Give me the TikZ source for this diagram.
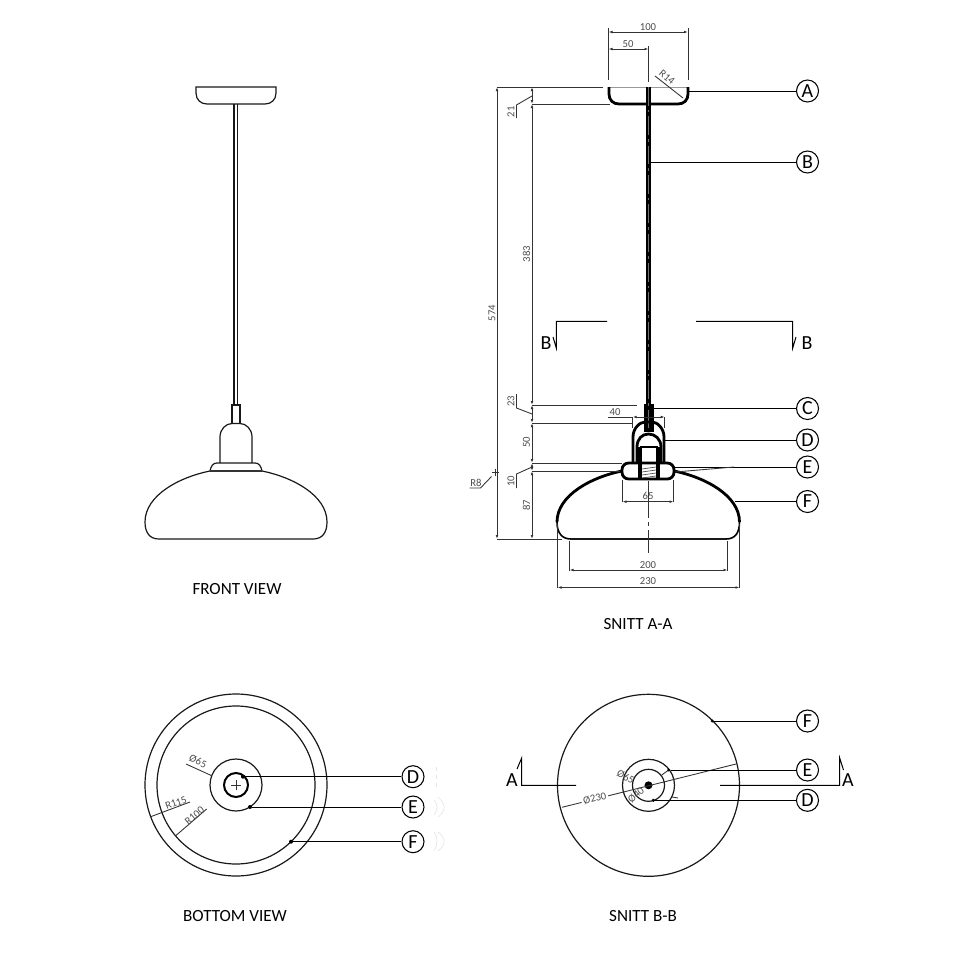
\documentclass[tikz,border=0pt]{standalone}
\usepackage{fontspec}
\setmainfont{Carlito}
\usetikzlibrary{arrows.meta}
\tikzset{
	thinline/.style={line width=0.9pt,color=black!90},
	heavyline/.style={line width=2.1pt,color=black},
	dimline/.style={line width=0.65pt,color=black!80,{Latex[length=3pt,width=2pt]}-{Latex[length=3pt,width=2pt]}},
	extline/.style={line width=0.65pt,color=black!80},
	leaderline/.style={line width=0.75pt,color=black},
	callout/.style={circle,draw=black,line width=0.8pt,fill=white,minimum size=16.5pt,inner sep=0pt,font=\fontsize{15}{15}\selectfont},
	dimtext/.style={font=\fontsize{8}{8}\selectfont,color=black!70,inner sep=0pt},
	cuttext/.style={font=\fontsize{15}{15}\selectfont,inner sep=0pt},
	viewtitle/.style={font=\fontsize{12.8}{12.8}\selectfont,inner sep=0pt},
	leaderdot/.style={circle,fill=black,inner sep=0pt,minimum size=3pt},
}
\begin{document}
\begin{tikzpicture}[x=0.75pt,y=0.75pt,yscale=-1,xscale=1]
	\useasboundingbox (0,0) rectangle (960,960);

	%Front view
	\draw [thinline] (196,87) -- (276,87) -- (276,93) .. controls (276,100) and (271,104) .. (265,104) -- (207,104) .. controls (201,104) and (196,100) .. (196,93) -- cycle ;
	\draw [thinline] (234,104) -- (234,405) ;
	\draw [thinline] (237.5,104) -- (237.5,405) ;
	\draw [thinline] (232,423) -- (232,405) -- (240,405) -- (240,423) ;
	\draw [thinline] (220,463) -- (220,437) .. controls (220,429) and (226,423.5) .. (232,423.5) -- (240,423.5) .. controls (246,423.5) and (252,429) .. (252,437) -- (252,463) ;
	\draw [thinline] (210,471) .. controls (211,466) and (213,463) .. (217,463) -- (255,463) .. controls (259,463) and (261,466) .. (262,471) ;
	\draw [line width=1.2pt,color=black!80] (210,471) -- (262,471) ;
	\draw [thinline] (210,471) .. controls (180,477) and (145,495) .. (145,522) .. controls (145,533) and (150,539) .. (159,539) -- (313,539) .. controls (322,539) and (327,533) .. (327,522) .. controls (327,495) and (292,477) .. (262,471) ;
	\node [viewtitle] (titleFront) at (237,589.5) {FRONT VIEW};

	%Section A-A, canopy and cord
	\draw [extline,color=black!40] (609,87) -- (688,87) ;
	\draw [heavyline] (609,87) -- (609,94) .. controls (609,100) and (613,104) .. (619,104) -- (678,104) .. controls (684,104) and (688,100) .. (688,94) -- (688,87) ;
	\draw [line width=4.2pt] (648.5,87) -- (648.5,405) ;
	\draw [line width=7.5pt] (648.5,404) -- (648.5,432) ;
	\draw [line width=0.2pt,color=black!55,dash pattern=on 14pt off 3pt on 2pt off 3pt] (648.5,87) -- (648.5,432) ;

	%Section A-A, holder
	\draw [heavyline] (633,463) -- (633,437) .. controls (633,428) and (640,422) .. (645,422) -- (652,422) .. controls (657,422) and (664,428) .. (664,437) -- (664,463) ;
	\draw [heavyline] (637,463) -- (637,447) .. controls (637,439) and (642,434) .. (648.5,434) .. controls (655,434) and (661,439) .. (661,447) -- (661,463) ;
	\draw [heavyline] (640,447) -- (658,447) ;
	\draw [line width=3pt] (640,447) -- (640,479) ;
	\draw [line width=3pt] (658,447) -- (658,479) ;
	\draw [heavyline,rounded corners=5pt] (622,463) rectangle (674,479) ;
	\draw [line width=0.5pt,color=black!70] (642,469) -- (656,467) ;
	\draw [line width=0.5pt,color=black!70] (642,472) -- (656,470) ;
	\draw [line width=0.5pt,color=black!70] (642,475) -- (656,473) ;
	\draw [line width=0.5pt,color=black!70] (642,478) -- (656,476) ;

	%Section A-A, shade
	\draw [heavyline] (622,471) .. controls (592,477) and (557,495) .. (557,522) ;
	\draw [heavyline] (674,471) .. controls (704,477) and (739.5,495) .. (739.5,522) ;
	\draw [line width=1.2pt] (557,522) .. controls (557,533) and (562,539) .. (571,539) ;
	\draw [line width=1.2pt] (739.5,522) .. controls (739.5,533) and (735,539) .. (726,539) ;
	\draw [thinline] (571,539) -- (726,539) ;
	\draw [extline,dash pattern=on 28pt off 3pt on 3pt off 3pt] (648.5,481) -- (648.5,553) ;

	%Section A-A, dimensions on top
	\draw [extline] (608.5,28) -- (608.5,80) ;
	\draw [extline] (688,28) -- (688,80) ;
	\draw [extline] (648.5,46) -- (648.5,82) ;
	\draw [dimline] (608.5,32) -- (688,32) ;
	\draw [dimline] (608.5,49) -- (648.5,49) ;
	\node [dimtext] (dimHundred) at (648,27) {100};
	\node [dimtext] (dimFifty) at (628,44) {50};
	\draw [extline] (655,76) -- (683,98) ;
	\node [dimtext,rotate=-40] (dimRfourteen) at (667,77) {R14};

	%Section A-A, dimensions on the left
	\draw [extline] (497,87) -- (603,87) ;
	\draw [extline] (532,104) -- (610,104) ;
	\draw [extline] (532,405) -- (637,405) ;
	\draw [extline] (532,423) -- (632,423) ;
	\draw [extline] (532,463) -- (622,463) ;
	\draw [extline] (532,471) -- (620,471) ;
	\draw [extline] (497,539) -- (562,539) ;
	\draw [dimline] (497,87) -- (497,539) ;
	\draw [dimline] (532,104) -- (532,405) ;
	\draw [dimline] (532,87) -- (532,104) ;
	\draw [dimline] (532,405) -- (532,423) ;
	\draw [dimline] (532,423) -- (532,463) ;
	\draw [dimline] (532,463) -- (532,471) ;
	\draw [dimline] (532,471) -- (532,539) ;
	\draw [extline] (532,96) -- (516.5,105) -- (516.5,118) ;
	\draw [extline] (532,414) -- (516.5,408) -- (516.5,394) ;
	\draw [extline] (532,467) -- (516.5,474) -- (516.5,488) ;
	\node [dimtext,rotate=90] (dimTotal) at (492,313) {574};
	\node [dimtext,rotate=90] (dimCord) at (526.5,254) {383};
	\node [dimtext,rotate=90] (dimCanopy) at (511,112) {21};
	\node [dimtext,rotate=90] (dimSleeve) at (511,401) {23};
	\node [dimtext,rotate=90] (dimHolder) at (526.5,442) {50};
	\node [dimtext,rotate=90] (dimFlange) at (511,481) {10};
	\node [dimtext,rotate=90] (dimShade) at (526.5,505) {87};
	\draw [extline] (491.5,472) -- (498.5,472) ;
	\draw [extline] (495,468.5) -- (495,475.5) ;
	\draw [extline] (491.5,476.5) -- (480.5,488) -- (469.5,488) ;
	\node [dimtext] (dimReight) at (476,482.5) {R8};

	%Section A-A, dimensions of holder and shade
	\draw [extline] (632.7,417) -- (632.7,428) ;
	\draw [extline] (664.7,417) -- (664.7,428) ;
	\draw [extline] (608,417) -- (632.7,417) ;
	\draw [dimline] (632.7,417) -- (664.7,417) ;
	\node [dimtext] (dimForty) at (615,412) {40};
	\draw [extline] (622.5,480) -- (622.5,502) ;
	\draw [extline] (673.5,480) -- (673.5,502) ;
	\draw [dimline] (622.5,501.7) -- (673.5,501.7) ;
	\node [dimtext] (dimSixtyfive) at (648,496) {65};
	\draw [extline] (569.5,541) -- (569.5,571) ;
	\draw [extline] (727.5,541) -- (727.5,571) ;
	\draw [dimline] (569.5,570) -- (727.5,570) ;
	\node [dimtext] (dimTwohundred) at (648,565) {200};
	\draw [extline] (557.5,524) -- (557.5,588) ;
	\draw [extline] (739.5,524) -- (739.5,588) ;
	\draw [dimline] (557.5,587.5) -- (739.5,587.5) ;
	\node [dimtext] (dimTwothirty) at (648,581.5) {230};

	%Section A-A, cut B-B
	\draw [leaderline] (607,321.3) -- (556.3,321.3) -- (556.3,348) -- (553,337) ;
	\draw [leaderline] (696,321.3) -- (792.7,321.3) -- (792.7,348) -- (796,337) ;
	\node [cuttext] (cutBleft) at (546,343) {B};
	\node [cuttext] (cutBright) at (807,343) {B};
	\node [viewtitle] (titleSectionA) at (638,624.5) {SNITT A-A};

	%Section A-A, callouts
	\node [callout] (calloutA) at (807.5,91) {A};
	\node [callout] (calloutB) at (807.5,162) {B};
	\node [callout] (calloutC) at (807.5,408.5) {C};
	\node [callout] (calloutD) at (807.5,440) {D};
	\node [callout] (calloutE) at (807.5,467) {E};
	\node [callout] (calloutF) at (807.5,501.5) {F};
	\coordinate (pointA) at (689,91);
	\coordinate (pointB) at (651,162);
	\coordinate (pointC) at (653,408.5);
	\coordinate (pointD) at (664.7,440);
	\coordinate (pointE) at (674,467);
	\coordinate (pointEtail) at (675,472);
	\coordinate (pointEend) at (734,467);
	\coordinate (pointF) at (735,501.5);
	\draw [leaderline] (pointA) -- (calloutA) ;
	\draw [leaderline] (pointB) -- (calloutB) ;
	\draw [leaderline] (pointC) -- (calloutC) ;
	\draw [leaderline] (pointD) -- (calloutD) ;
	\draw [leaderline] (pointE) -- (calloutE) ;
	\draw [extline] (pointEtail) -- (pointEend) ;
	\draw [leaderline] (pointF) -- (calloutF) ;

	%Bottom view
	\draw [thinline] (236,785) circle (91) ;
	\draw [thinline] (236,785) circle (79) ;
	\draw [thinline] (236,785) circle (26) ;
	\draw [line width=1.5pt] (236,785) circle (12) ;
	\draw [extline] (231,785) -- (241,785) ;
	\draw [extline] (236,780) -- (236,790) ;
	\draw [extline] (186,764) -- (211.7,775.7) ;
	\node [dimtext,rotate=-24] (dimBottomSixtyfive) at (198,761.5) {Ø65};
	\draw [extline] (150.7,816.7) -- (190,802) ;
	\node [dimtext,rotate=20] (dimBottomOuter) at (176,803) {R115};
	\draw [extline] (175.7,835.7) -- (206.7,809) ;
	\node [dimtext,rotate=40] (dimBottomInner) at (194.5,815.5) {R100};
	\node [viewtitle] (titleBottom) at (235,916.5) {BOTTOM VIEW};

	%Bottom view, callouts
	\node [callout] (bottomD) at (413,776.7) {D};
	\node [callout] (bottomE) at (413,807) {E};
	\node [callout] (bottomF) at (413,841.7) {F};
	\node [leaderdot] (dotBottomD) at (243,776.7) {};
	\node [leaderdot] (dotBottomE) at (250,807) {};
	\node [leaderdot] (dotBottomF) at (291,841.7) {};
	\draw [leaderline] (dotBottomD) -- (bottomD) ;
	\draw [leaderline] (dotBottomE) -- (bottomE) ;
	\draw [leaderline] (dotBottomF) -- (bottomF) ;

	%Bottom view, faint marks
	\draw [line width=0.5pt,color=black!10] (434,800) .. controls (438,804) and (438,810) .. (434,815) ;
	\draw [line width=0.5pt,color=black!10] (438,797) .. controls (446,804) and (446,811) .. (438,817) ;
	\draw [line width=0.5pt,color=black!10] (434,832) .. controls (438,837) and (438,845) .. (434,851) ;
	\draw [line width=0.5pt,color=black!10] (438,832) .. controls (446,838) and (446,845) .. (438,851) ;
	\draw [line width=0.5pt,color=black!10,dashed] (436,767) -- (436,787) ;

	%Section B-B
	\draw [thinline] (648.5,785.3) circle (91) ;
	\draw [thinline] (648.5,785.3) circle (26) ;
	\draw [thinline] (648.5,785.3) circle (16) ;
	\fill (648.5,785.3) circle (4) ;
	\draw [extline] (562,807.3) -- (736,764) ;
	\node [dimtext,rotate=14,fill=white,inner sep=1.5pt] (dimPhiTwothirty) at (594.7,798.5) {Ø230};
	\node [dimtext,rotate=-28] (dimPhiSixtyfive) at (625.5,777) {Ø65};
	\node [dimtext,rotate=42] (dimPhiForty) at (636,795) {Ø40};
	\draw [extline] (661.7,775) -- (668.7,770) ;
	\draw [extline] (672,797) -- (678,798) ;
	\draw [leaderline] (576,785.3) -- (521.7,785.3) -- (521.7,758) -- (517,769) ;
	\draw [leaderline] (720,785.3) -- (839.7,785.3) -- (839.7,758) -- (843.5,770) ;
	\node [cuttext] (cutAleft) at (512,780.5) {A};
	\node [cuttext] (cutAright) at (848,780.5) {A};
	\node [viewtitle] (titleSectionB) at (643,916.5) {SNITT B-B};

	%Section B-B, callouts
	\node [callout] (sectionF) at (807.5,721) {F};
	\node [callout] (sectionE) at (807.5,770) {E};
	\node [callout] (sectionD) at (807.5,800.3) {D};
	\node [leaderdot,minimum size=2.5pt] (dotSectionF) at (712.3,721) {};
	\node [leaderdot,minimum size=2.5pt] (dotSectionE) at (668.7,770) {};
	\node [leaderdot,minimum size=2.5pt] (dotSectionD) at (653.3,800.3) {};
	\draw [leaderline] (dotSectionF) -- (sectionF) ;
	\draw [leaderline] (dotSectionE) -- (sectionE) ;
	\draw [leaderline] (dotSectionD) -- (sectionD) ;
\end{tikzpicture}
\end{document}
